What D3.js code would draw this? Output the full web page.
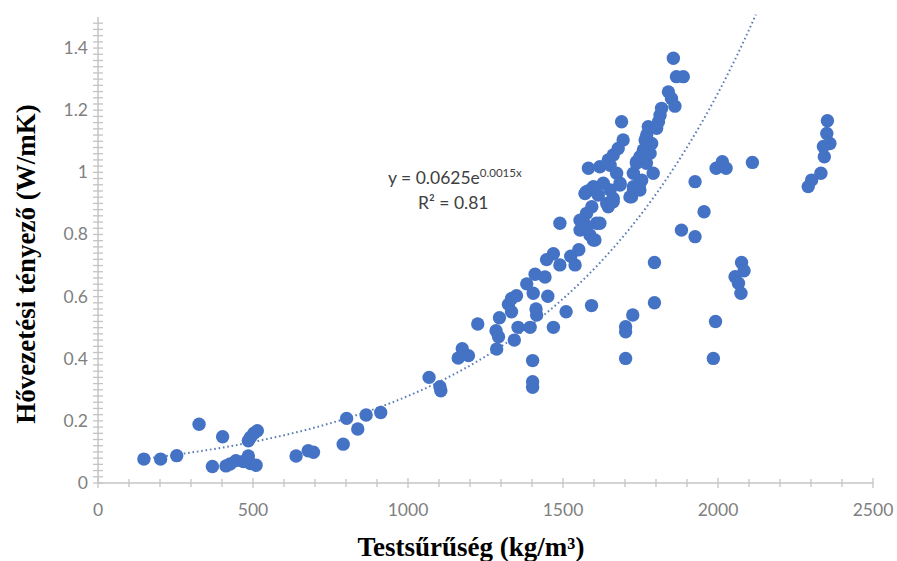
<!DOCTYPE html>
<html><head><meta charset="utf-8">
<script src="https://cdn.jsdelivr.net/npm/d3@7"></script>
<style>html,body{margin:0;padding:0;background:#fff;}svg{display:block;}</style>
</head><body><div id="chart"></div>
<script>
// ---- data (density kg/m3, thermal conductivity W/mK) ----
const densities = [148,202,254,326,402,369,413,426,445,469,485,492,510,485,492,503,514,639,678,695,791,802,838,865,912,
1068,1103,1106,1162,1175,1195,1225,1286,1284,1292,1295,1343,1355,1394,1402,1402,1402,
1324,1334,1350,1334,1383,1404,1413,1415,1410,1442,1451,1469,1510,1447,1469,1490,1525,1539,1551,1490,1592,
1555,1566,1576,1587,1598,1603,1576,1555,1608,1593,1619,1571,1587,1614,1641,1662,1652,1684,1646,1662,1576,1598,1630,1582,1619,1652,1673,1684,1646,1662,1678,1694,1689,
1716,1721,1727,1748,1727,1754,1748,1727,1791,1737,1769,1737,1748,1759,1781,1765,1786,1770,1775,1802,1808,1813,1818,1840,1850,1861,1866,1888,1856,
1702,1702,1725,1702,1795,1795,1882,1926,1955,1926,1994,2014,2026,2111,1985,1992,2076,2084,2055,2066,2074,
2353,2351,2361,2340,2343,2332,2302,2291];
const conductivity = [0.077,0.077,0.088,0.189,0.149,0.053,0.055,0.061,0.072,0.069,0.087,0.063,0.057,0.136,0.147,0.160,0.168,0.087,0.104,0.099,0.125,0.208,0.174,0.219,0.227,
0.340,0.310,0.297,0.402,0.432,0.410,0.512,0.431,0.490,0.471,0.532,0.460,0.501,0.501,0.394,0.326,0.308,
0.575,0.594,0.603,0.551,0.641,0.611,0.560,0.541,0.672,0.663,0.601,0.501,0.551,0.719,0.738,0.702,0.730,0.702,0.751,0.836,0.571,
0.814,0.841,0.825,0.798,0.782,0.782,0.868,0.846,0.836,0.889,0.836,0.932,0.943,0.927,0.900,0.916,0.943,0.959,0.889,0.905,0.938,0.954,0.965,1.013,1.018,1.023,0.997,0.965,1.040,1.056,1.077,1.104,1.163,
0.921,0.921,0.943,0.943,0.954,0.975,0.965,0.997,0.997,1.034,1.029,1.029,1.050,1.072,1.061,1.104,1.093,1.120,1.147,1.142,1.163,1.184,1.206,1.259,1.238,1.213,1.308,1.308,1.367,
0.503,0.487,0.541,0.401,0.580,0.710,0.814,0.793,0.873,0.970,1.013,1.034,1.013,1.032,0.401,0.520,0.710,0.683,0.664,0.643,0.611,
1.166,1.125,1.093,1.083,1.050,0.997,0.975,0.954];
const xTickLabels = [0,500,1000,1500,2000,2500];
const yTickLabels = [0,0.2,0.4,0.6,0.8,1,1.2,1.4];
const trendA = 0.0625, trendB = 0.0015;   // fitted exponential y = a*e^(b*x)
const trendRange = [150, 2122];
const equationText = ["y = 0.0625e", "0.0015x"];
const r2Text = "R² = 0.81";
const xTitle = "Testsűrűség (kg/m³)";
const yTitle = "Hővezetési tényező (W/mK)";

const W = 897, H = 561;
const svg = d3.select("#chart").append("svg").attr("width", W).attr("height", H);
const x = d3.scaleLinear().domain([0, 2500]).range([98, 873]);
const y = d3.scaleLinear().domain([0, 1.5]).range([483, 17]);
const axisCol = "#c4c4c4", labCol = "#7f7f7f";
const tickFont = "Lato, 'Open Sans', sans-serif";

// axes lines
svg.append("line").attr("x1", x(0)).attr("x2", x(2500)).attr("y1", y(0)).attr("y2", y(0)).attr("stroke", axisCol).attr("stroke-width", 1.5);
svg.append("line").attr("x1", x(0)).attr("x2", x(0)).attr("y1", y(0)).attr("y2", y(1.5)).attr("stroke", axisCol).attr("stroke-width", 1.5);

// x ticks (cross)
const xMinor = d3.range(0, 2501, 100);
svg.append("g").selectAll("line").data(xMinor).join("line")
  .attr("x1", d => x(d)).attr("x2", d => x(d))
  .attr("y1", d => y(0) - (d % 500 === 0 ? 5 : 4)).attr("y2", d => y(0) + (d % 500 === 0 ? 5 : 4))
  .attr("stroke", axisCol).attr("stroke-width", 1.3);
const yMinor = d3.range(0, 75).map(i => +(i * 0.02).toFixed(2));
svg.append("g").selectAll("line").data(yMinor).join("line")
  .attr("y1", d => y(d)).attr("y2", d => y(d))
  .attr("x1", x(0) - 5).attr("x2", x(0) + 5)
  .attr("stroke", axisCol).attr("stroke-width", 1.3);

// tick labels
svg.append("g").selectAll("text").data(xTickLabels).join("text")
  .attr("x", d => x(d)).attr("y", 516).attr("text-anchor", "middle")
  .attr("font-family", tickFont).attr("font-size", 17.5).attr("fill", labCol)
  .text(d => d);
svg.append("g").selectAll("text").data(yTickLabels).join("text")
  .attr("x", 88).attr("y", d => y(d) + 6).attr("text-anchor", "end")
  .attr("font-family", tickFont).attr("font-size", 17.5).attr("fill", labCol)
  .text(d => d);

// trendline
const tx = d3.range(trendRange[0], trendRange[1], 10).concat([trendRange[1]]);
const line = d3.line().x(d => x(d)).y(d => y(trendA * Math.exp(trendB * d)));
svg.append("path").datum(tx).attr("d", line).attr("fill", "none")
  .attr("stroke", "#5b7db8").attr("stroke-width", 2).attr("stroke-dasharray", "1.6,2.8");

// points
const pts = densities.map((d, i) => [d, conductivity[i]]);
svg.append("g").selectAll("circle").data(pts).join("circle")
  .attr("cx", d => x(d[0])).attr("cy", d => y(d[1])).attr("r", 6.7)
  .attr("fill", "#4472c4");

// equation
const eq = svg.append("text").attr("x", 388).attr("y", 184)
  .attr("font-family", tickFont).attr("font-size", 17.5).attr("fill", "#404040");
eq.append("tspan").text(equationText[0]);
eq.append("tspan").attr("dy", -7).attr("font-size", 11.5).text(equationText[1]);
svg.append("text").attr("x", 418).attr("y", 209)
  .attr("font-family", tickFont).attr("font-size", 17.5).attr("fill", "#404040").text(r2Text);

// titles
svg.append("text").attr("x", 471).attr("y", 556).attr("text-anchor", "middle")
  .attr("font-family", "'Liberation Serif', 'Times New Roman', serif").attr("font-weight", "bold")
  .attr("font-size", 27).attr("fill", "#000").text(xTitle);
svg.append("text").attr("transform", "translate(35,264) rotate(-90)").attr("text-anchor", "middle")
  .attr("font-family", "'Liberation Serif', 'Times New Roman', serif").attr("font-weight", "bold")
  .attr("font-size", 27).attr("fill", "#000").text(yTitle);
</script></body></html>
